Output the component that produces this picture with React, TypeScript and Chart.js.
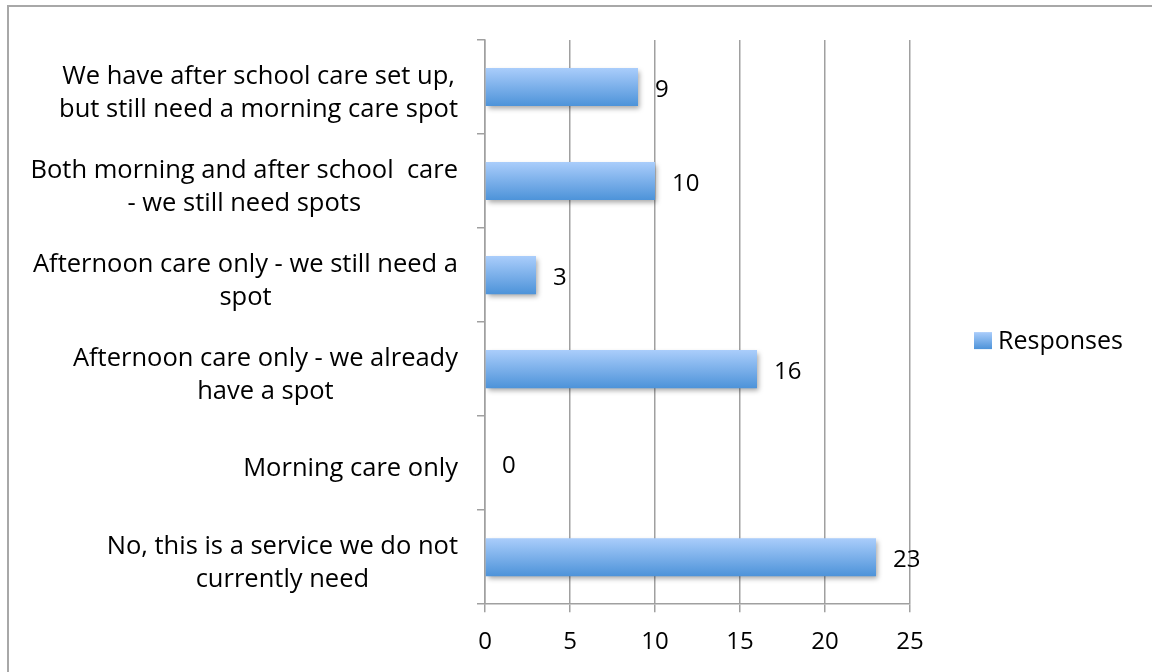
import React, { useEffect, useRef } from "react";
import { Chart, registerables } from "chart.js";

Chart.register(...registerables);

const categories: string[][] = [
  ["We have after school care set up,", "but still need a morning care spot"],
  ["Both morning and after school  care", "- we still need spots"],
  ["Afternoon care only - we still need a", "spot"],
  ["Afternoon care only - we already", "have a spot"],
  ["Morning care only"],
  ["No, this is a service we do not", "currently need"],
];
const responses: number[] = [9, 10, 3, 16, 0, 23];
const seriesName = "Responses";
const xMin = 0;
const xMax = 25;
const xStep = 5;

const FONT = "'Open Sans', 'Noto Sans', sans-serif";
const LABEL_SIZE = 25.5;
const TICK_SIZE = 24;
const GRID = "#a0a0a0";
const BAR_PCT = 0.405;
const TOP_COLOR = "#aacdfb";
const BOTTOM_COLOR = "#4d93d9";

function makeGradient(ctx: CanvasRenderingContext2D, top: number, bottom: number) {
  const g = ctx.createLinearGradient(0, top, 0, bottom);
  g.addColorStop(0, TOP_COLOR);
  g.addColorStop(1, BOTTOM_COLOR);
  return g;
}

const shadowPlugin = {
  id: "barShadow",
  beforeDatasetsDraw(chart: any) {
    const ctx = chart.ctx;
    ctx.save();
    ctx.shadowColor = "rgba(0,0,0,0.35)";
    ctx.shadowBlur = 5;
    ctx.shadowOffsetX = 2;
    ctx.shadowOffsetY = 3;
  },
  afterDatasetsDraw(chart: any) {
    chart.ctx.restore();
  },
};

const labelsPlugin = {
  id: "customLabels",
  afterDraw(chart: any) {
    const ctx: CanvasRenderingContext2D = chart.ctx;
    const yScale = chart.scales.y;
    const xScale = chart.scales.x;
    const area = chart.chartArea;
    ctx.save();
    ctx.fillStyle = "#000";
    ctx.font = `${LABEL_SIZE}px ${FONT}`;
    ctx.textBaseline = "middle";
    // category labels: block right aligned, lines centered within block
    const lineH = 33;
    categories.forEach((lines, i) => {
      const cy = yScale.getPixelForValue(i) + 6;
      const widest = Math.max(...lines.map((l) => ctx.measureText(l).width));
      const right = area.left - 27;
      const cx = right - widest / 2;
      ctx.textAlign = "center";
      lines.forEach((l, j) => {
        const y = cy + (j - (lines.length - 1) / 2) * lineH;
        ctx.fillText(l, cx, y);
      });
    });
    // value labels
    ctx.font = `${TICK_SIZE}px ${FONT}`;
    ctx.textAlign = "left";
    responses.forEach((v, i) => {
      const cy = yScale.getPixelForValue(i) + 3;
      const x = xScale.getPixelForValue(v) + 17;
      ctx.fillText(String(v), x, cy);
    });
    // legend
    const lx = area.right + 64;
    const ly = (area.top + area.bottom) / 2 + 19;
    ctx.fillStyle = makeGradient(ctx, ly - 9, ly + 8);
    ctx.fillRect(lx, ly - 9, 18, 17);
    ctx.fillStyle = "#000";
    ctx.font = `25px ${FONT}`;
    ctx.fillText(seriesName, lx + 24, ly + 1);
    ctx.restore();
  },
};

export default function App() {
  const ref = useRef<HTMLCanvasElement | null>(null);
  useEffect(() => {
    if (!ref.current) return;
    const chart = new Chart(ref.current, {
      type: "bar",
      data: {
        labels: categories.map((c) => c.join(" ")),
        datasets: [
          {
            label: seriesName,
            data: responses,
            barPercentage: BAR_PCT,
            categoryPercentage: 1,
            borderWidth: 0,
            backgroundColor: (c: any) => {
              const ch = c.chart;
              const area = ch.chartArea;
              if (!area || c.dataIndex === undefined) return BOTTOM_COLOR;
              const y = ch.scales.y;
              const center = y.getPixelForValue(c.dataIndex);
              const half = (area.height / categories.length) * BAR_PCT / 2;
              return makeGradient(ch.ctx, center - half, center + half);
            },
          },
        ],
      },
      options: {
        indexAxis: "y",
        animation: false,
        responsive: false,
        devicePixelRatio: 1,
        layout: { padding: { left: 477, top: 40, right: 242, bottom: -1 } },
        plugins: {
          legend: { display: false },
          tooltip: { enabled: false },
        },
        scales: {
          x: {
            min: xMin,
            max: xMax,
            ticks: {
              stepSize: xStep,
              color: "#000",
              padding: 16,
              font: { family: FONT, size: TICK_SIZE },
            },
            grid: { color: GRID, lineWidth: 1.5, tickLength: 8 },
            border: { color: GRID, width: 1.5 },
          },
          y: {
            type: "category",
            ticks: { display: false },
            grid: {
              offset: true,
              drawOnChartArea: false,
              color: GRID,
              lineWidth: 1.5,
              tickLength: 8,
            },
            border: { color: GRID, width: 1.5 },
          },
        },
      },
      plugins: [shadowPlugin, labelsPlugin],
    } as any);
    return () => chart.destroy();
  }, []);
  return (
    <div style={{ position: "fixed", inset: 0, overflow: "hidden", background: "#fff" }}>
      <canvas ref={ref} width={1152} height={672} style={{ position: "absolute", left: 0, top: 0 }} />
      <div
        style={{
          position: "absolute",
          left: 7,
          top: 5,
          width: 1200,
          height: 720,
          border: "2px solid #a8a8a8",
          pointerEvents: "none",
        }}
      />
    </div>
  );
}
